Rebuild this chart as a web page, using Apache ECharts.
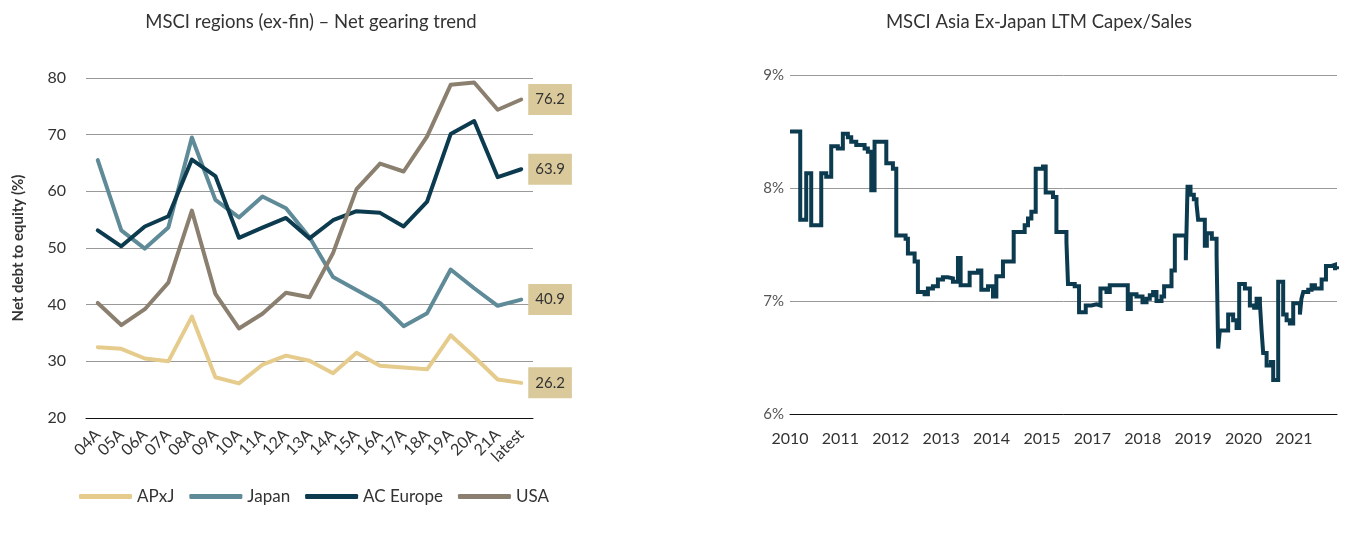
<!DOCTYPE html>
<html><head><meta charset="utf-8">
<script src="https://cdn.jsdelivr.net/npm/echarts@6/dist/echarts.min.js"></script>
<style>html,body{margin:0;padding:0;background:#fff}#c{width:1354px;height:546px}</style>
</head><body><div id="c"></div>
<script>
// ---- Left chart data ----
const gearingCategories = ['04A','05A','06A','07A','08A','09A','10A','11A','12A','13A','14A','15A','16A','17A','18A','19A','20A','21A','latest'];
const apxj    = [32.5,32.2,30.5,30.0,37.9,27.2,26.1,29.4,31.0,30.1,27.9,31.5,29.2,28.9,28.6,34.6,30.8,26.8,26.2];
const japan   = [65.5,53.1,49.9,53.6,69.5,58.5,55.4,59.1,57.0,51.9,44.9,42.6,40.3,36.2,38.5,46.2,42.9,39.8,40.9];
const acEurope= [53.1,50.3,53.8,55.6,65.6,62.7,51.8,53.6,55.3,51.7,54.9,56.5,56.2,53.8,58.2,70.1,72.4,62.5,63.9];
const usa     = [40.3,36.4,39.2,43.9,56.6,41.9,35.8,38.4,42.1,41.3,49.1,60.4,64.9,63.5,69.7,78.8,79.2,74.4,76.2];
const gearingTicks = [20,30,40,50,60,70,80];

// ---- Right chart data (step series: period index along axis, value in %) ----
const capexTickLabels = ['2010','2011','2012','2013','2014','2015','2017','2018','2019','2020','2021'];
const capexPeriod = [0,0.203,0.322,0.421,0.620,0.719,0.818,0.949,1.049,1.148,1.215,1.315,1.480,1.545,1.613,1.678,1.911,2.042,2.109,2.294,2.340,2.473,2.538,2.671,2.737,2.836,2.935,3.035,3.134,3.233,3.333,3.386,3.565,3.730,3.797,3.929,4.028,4.095,4.226,4.439,4.657,4.723,4.790,4.876,5.021,5.074,5.219,5.287,5.486,5.517,5.650,5.736,5.869,5.982,6.081,6.161,6.280,6.346,6.703,6.763,6.876,6.995,7.075,7.140,7.206,7.273,7.372,7.424,7.571,7.637,7.855,7.889,7.948,8.014,8.067,8.099,8.232,8.272,8.371,8.465,8.497,8.530,8.695,8.794,8.862,8.914,9.027,9.126,9.211,9.259,9.325,9.358,9.390,9.458,9.543,9.589,9.688,9.787,9.855,9.920,9.986,10.119,10.149,10.185,10.284,10.351,10.417,10.550,10.636,10.749,10.815,10.855];
const capexPct    = [8.50,7.72,8.13,7.67,8.13,8.10,8.37,8.35,8.48,8.45,8.41,8.38,8.35,8.32,7.98,8.41,8.22,8.17,7.58,7.55,7.42,7.35,7.08,7.06,7.11,7.13,7.19,7.21,7.20,7.17,7.38,7.14,7.25,7.27,7.10,7.13,7.04,7.22,7.35,7.61,7.67,7.73,7.79,8.17,8.19,7.96,7.92,7.61,7.52,7.15,7.13,6.90,6.96,6.97,6.96,7.11,7.08,7.14,6.93,7.06,7.04,6.99,7.02,7.05,7.08,7.00,7.04,7.13,7.27,7.58,7.36,8.01,7.94,7.90,7.86,7.72,7.49,7.60,7.55,7.41,6.58,6.74,6.88,6.83,6.76,7.15,7.11,6.96,6.94,7.02,6.98,6.74,6.54,6.43,6.46,6.30,7.17,6.88,6.83,6.80,6.98,6.88,7.02,7.08,7.10,7.14,7.11,7.19,7.31,7.32,7.29,7.28];
const capexTicks = [6,7,8,9];

const FONT = 'Lato';
const TXT = '#333';
const colors = {APxJ:'#e6cc8c', Japan:'#5f8a98', 'AC Europe':'#0c3b50', USA:'#8b8070'};

function lineSeries(name, data) {
  return {
    name, type:'line', data, xAxisIndex:0, yAxisIndex:0,
    symbol:'none', lineStyle:{width:4, color:colors[name], cap:'round', join:'round'},
    itemStyle:{color:colors[name]},
    endLabel: {
      show: true,
      formatter: p => Number(p.value).toFixed(1),
      backgroundColor:'#dac99b', color:TXT, fontFamily:FONT, fontSize:15,
      padding:[8,7,8,7], distance:7
    },
    emphasis:{disabled:true}, animation:false
  };
}

const capexData = capexPeriod.map((t,i)=>[t, capexPct[i]]);

const chart = echarts.init(document.getElementById('c'));
chart.setOption({
  animation:false,
  textStyle:{fontFamily:FONT},
  title:[
    {text:'MSCI regions (ex-fin) – Net gearing trend', left:306, top:8, textAlign:'center',
     textStyle:{fontFamily:FONT, fontSize:18.5, fontWeight:'normal', color:TXT}},
    {text:'MSCI Asia Ex-Japan LTM Capex/Sales', left:1034, top:8, textAlign:'center',
     textStyle:{fontFamily:FONT, fontSize:18.5, fontWeight:'normal', color:TXT}}
  ],
  legend:{
    data:['APxJ','Japan','AC Europe','USA'], left:74, top:483,
    icon:'roundRect', itemWidth:53, itemHeight:5, itemGap:15,
    textStyle:{fontFamily:FONT, fontSize:17, color:TXT}
  },
  grid:[
    {left:86, right:821, top:78, bottom:128},
    {left:790, right:17, top:75, bottom:132}
  ],
  xAxis:[
    {gridIndex:0, type:'category', data:gearingCategories, boundaryGap:true,
     axisLine:{lineStyle:{color:'#111', width:1}}, axisTick:{show:false},
     axisLabel:{rotate:45, fontFamily:FONT, fontSize:16, color:TXT, margin:14, interval:0}},
    {gridIndex:1, type:'value', min:0, max:10.855, interval:1,
     axisLine:{show:true, onZero:false, lineStyle:{color:'#111'}}, axisTick:{show:false},
     splitLine:{show:false},
     axisLabel:{fontFamily:FONT, fontSize:16, color:TXT, margin:17, showMaxLabel:false,
       formatter: v => capexTickLabels[Math.round(v)] ?? ''}}
  ],
  yAxis:[
    {gridIndex:0, type:'value', min:gearingTicks[0], max:gearingTicks[gearingTicks.length-1], interval:10,
     name:'Net debt to equity (%)', nameLocation:'middle', nameGap:60, nameRotate:90,
     nameTextStyle:{fontFamily:FONT, fontSize:15, fontWeight:'bold', color:TXT},
     axisLine:{show:false}, axisTick:{show:false},
     splitLine:{lineStyle:{color:'#999', width:1}},
     axisLabel:{fontFamily:FONT, fontSize:16, color:TXT, margin:20}},
    {gridIndex:1, type:'value', min:capexTicks[0], max:capexTicks[capexTicks.length-1], interval:1,
     axisLine:{show:false}, axisTick:{show:false},
     splitLine:{lineStyle:{color:'#999', width:1}},
     axisLabel:{fontFamily:FONT, fontSize:15, color:'#555', margin:6, formatter:'{value}%'}}
  ],
  series:[
    lineSeries('APxJ', apxj),
    lineSeries('Japan', japan),
    lineSeries('AC Europe', acEurope),
    lineSeries('USA', usa),
    {name:'capex', type:'line', xAxisIndex:1, yAxisIndex:1, data:capexData, step:'end',
     symbol:'none', lineStyle:{width:4, color:'#0c3b50', join:'miter'}, emphasis:{disabled:true}}
  ]
});
</script></body></html>
